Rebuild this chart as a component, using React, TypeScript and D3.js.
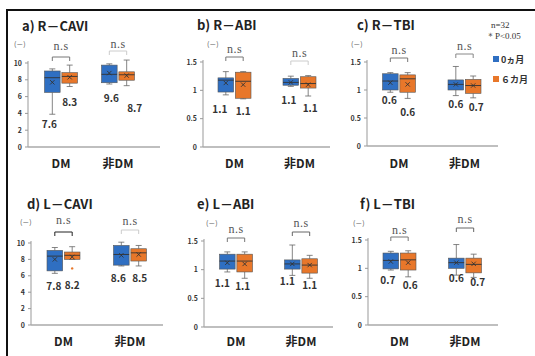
import React from 'react';
import * as d3 from 'd3';

// data
const CATEGORIES = ['DM', '非DM'];
const PERIODS = ['0ヵ月', '６カ月'];
const PANEL_TITLES = ['a) R－CAVI', 'b) R－ABI', 'c) R－TBI', 'd) L－CAVI', 'e) L－ABI', 'f) L－TBI'];
const Y_MAX = [10, 1.5, 1.5, 10, 1.5, 1.5];
const CAVI_TICKS = [0, 2, 4, 6, 8, 10];
const INDEX_TICKS = [0, 0.5, 1, 1.5];

// [low, q1, median, q3, high, mean] for DM-0, DM-6, nonDM-0, nonDM-6
const R_CAVI = [[3.9, 6.5, 8.25, 9.05, 9.3, 7.7], [7.2, 7.6, 8.4, 8.85, 9.75, 8.3], [7.5, 7.65, 8.65, 9.75, 9.9, 8.8], [7.3, 7.95, 8.6, 8.95, 10.35, 8.5]];
const R_ABI = [[0.92, 0.97, 1.18, 1.22, 1.33, 1.13], [0.85, 0.86, 1.16, 1.32, 1.33, 1.1], [1.07, 1.09, 1.14, 1.21, 1.25, 1.14], [0.9, 1.04, 1.12, 1.24, 1.26, 1.1]];
const R_TBI = [[0.96, 1.0, 1.16, 1.29, 1.31, 1.13], [0.85, 0.96, 1.2, 1.27, 1.31, 1.1], [0.9, 1.0, 1.1, 1.18, 1.42, 1.1], [0.86, 0.94, 1.08, 1.19, 1.25, 1.08]];
const L_CAVI = [[6.3, 6.6, 8.4, 9.1, 9.45, 8.0], [8.0, 8.0, 8.5, 8.9, 9.55, 8.3], [7.2, 7.3, 8.6, 9.7, 10.1, 8.5], [7.2, 7.8, 8.8, 9.3, 9.7, 8.6]];
const L_ABI = [[0.96, 1.01, 1.15, 1.27, 1.31, 1.12], [0.85, 0.96, 1.15, 1.27, 1.31, 1.1], [0.9, 1.01, 1.1, 1.17, 1.43, 1.1], [0.85, 0.94, 1.08, 1.19, 1.25, 1.08]];
const L_TBI = [[0.97, 0.99, 1.14, 1.27, 1.3, 1.12], [0.85, 0.97, 1.15, 1.27, 1.31, 1.1], [0.88, 1.0, 1.1, 1.18, 1.42, 1.1], [0.84, 0.92, 1.07, 1.18, 1.25, 1.08]];
const BOX_DATA = [R_CAVI, R_ABI, R_TBI, L_CAVI, L_ABI, L_TBI];
const OUTLIERS = [[], [], [], [[1, 6.9]], [], []]; // [box index, value]

const VALUE_LABELS = [
  ['7.6', '8.3', '9.6', '8.7'],
  ['1.1', '1.1', '1.1', '1.1'],
  ['0.6', '0.6', '0.6', '0.7'],
  ['7.8', '8.2', '8.6', '8.5'],
  ['1.1', '1.1', '1.1', '1.1'],
  ['0.7', '0.6', '0.6', '0.7'],
];
const SIG_LABELS = [['n.s', 'n.s'], ['n.s', 'n.s'], ['n.s', 'n.s'], ['n.s', 'n.s'], ['n.s', 'n.s'], ['n.s', 'n.s']];
const SAMPLE_NOTE = 'n=32';
const P_NOTE = '＊P<0.05';
const UNIT = '(－)';

// layout
const PANELS = [
  { axisX: 28, y0: 147, yTop: 63, xEnd: 160, g: [33, 90], titleX: 22, titleY: 31, unitX: 14, unitY: 47, catY: 168 },
  { axisX: 203, y0: 147, yTop: 62, xEnd: 330, g: [31.5, 96.5], titleX: 197, titleY: 30, unitX: 207, unitY: 47, catY: 168 },
  { axisX: 367, y0: 146, yTop: 62, xEnd: 498, g: [32, 97.5], titleX: 357, titleY: 30, unitX: 351, unitY: 47, catY: 168 },
  { axisX: 31, y0: 325, yTop: 243, xEnd: 163, g: [32.5, 99], titleX: 27, titleY: 209, unitX: 20, unitY: 225, catY: 346 },
  { axisX: 204, y0: 327, yTop: 241, xEnd: 333, g: [32, 97], titleX: 197, titleY: 209, unitX: 206, unitY: 226, catY: 346 },
  { axisX: 368, y0: 325, yTop: 240, xEnd: 498, g: [31.5, 97], titleX: 360, titleY: 209, unitX: 353, unitY: 226, catY: 346 },
];
// [dx, dy below lower whisker]
const LABEL_OFFSETS = [
  [[-3, 14], [0, 19], [2, 18], [8, 26]],
  [[-6, 18], [0, 16], [-2, 18], [2, 16]],
  [[-1, 12], [0, 18], [0, 12], [3, 13]],
  [[-1, 17], [0, 30], [-3, 16], [1, 16]],
  [[-5, 15], [-2, 12], [-5, 10], [0, 11]],
  [[-3, 14], [2, 12], [0, 7], [4, 9]],
];
// [px above top tick, gap to text, colour]
const BRACKETS = [
  [[6, 7, '#777'], [12, 3, '#ccc']],
  [[5, 4, '#777'], [1, 4, '#ccc']],
  [[4, 4, '#777'], [8, 4, '#888']],
  [[11, 8, '#222'], [13, 5, '#ccc']],
  [[3, 5, '#777'], [9, 5, '#666']],
  [[3, 3, '#777'], [12, 5, '#666']],
];

const COLORS = ['#2f6fc2', '#e8772a'];
const SANS = '"Noto Sans CJK JP", "Noto Sans", sans-serif';
const SERIF = '"Liberation Serif", serif';

const Panel = ({ idx }: { idx: number }) => {
  const p = PANELS[idx];
  const y = d3.scaleLinear().domain([0, Y_MAX[idx]]).range([p.y0, p.yTop]);
  const ticks = Y_MAX[idx] > 2 ? CAVI_TICKS : INDEX_TICKS;
  const xOuter = d3.scalePoint().domain(CATEGORIES).range([p.axisX + p.g[0], p.axisX + p.g[1]]);
  const xInner = d3.scaleBand().domain(PERIODS).range([-16.5, 16.5]).paddingInner(0.1);
  const bw = xInner.bandwidth();
  const sym = d3.symbol().type(d3.symbolX).size(14);

  return (
    <g>
      <text x={p.titleX} y={p.titleY} fontSize={13} fontWeight="bold" fill="#222" fontFamily={SANS}>{PANEL_TITLES[idx]}</text>
      <text x={p.unitX} y={p.unitY} fontSize={7} fill="#555" fontFamily={SANS}>{UNIT}</text>

      <line x1={p.axisX} x2={p.axisX} y1={p.y0} y2={p.yTop - 2} stroke="#aaa" strokeWidth={1.2} />
      <line x1={p.axisX} x2={p.xEnd} y1={p.y0} y2={p.y0} stroke="#aaa" strokeWidth={1.5} />
      {ticks.map(t => (
        <g key={t}>
          <line x1={p.axisX - 3} x2={p.axisX} y1={y(t)} y2={y(t)} stroke="#999" />
          <text x={p.axisX - 6} y={y(t) + 2.5} fontSize={7} fontWeight="bold" fill="#333" textAnchor="end" fontFamily={SANS}>{d3.format('~g')(t)}</text>
        </g>
      ))}

      {CATEGORIES.map((cat, ci) => {
        const cx = xOuter(cat) as number;
        const centers = PERIODS.map(per => cx + (xInner(per) as number) + bw / 2);
        const [up, gap, col] = BRACKETS[idx][ci] as [number, number, string];
        const by = p.yTop - up;
        return (
          <g key={cat}>
            <path d={`M${centers[0]},${by + 4}V${by}H${centers[1]}V${by + 4}`} fill="none" stroke={col} strokeWidth={1} />
            <text x={(centers[0] + centers[1]) / 2} y={by - gap} fontSize={12} fill="#555" textAnchor="middle" fontFamily={SERIF} letterSpacing={0.5}>{SIG_LABELS[idx][ci]}</text>
            <text x={cx} y={p.catY} fontSize={12} fontWeight="bold" fill="#222" textAnchor="middle" fontFamily={SANS}>{cat}</text>
            {PERIODS.map((per, pi) => {
              const bi = ci * 2 + pi;
              const [lo, q1, med, q3, hi, mean] = BOX_DATA[idx][bi];
              const x0 = cx + (xInner(per) as number);
              const mx = x0 + bw / 2;
              const [dx, dy] = LABEL_OFFSETS[idx][bi];
              return (
                <g key={per}>
                  <line x1={mx} x2={mx} y1={y(hi)} y2={y(q3)} stroke="#666" strokeWidth={0.8} />
                  <line x1={mx} x2={mx} y1={y(q1)} y2={y(lo)} stroke="#666" strokeWidth={0.8} />
                  <line x1={mx - 3} x2={mx + 3} y1={y(hi)} y2={y(hi)} stroke="#666" strokeWidth={0.8} />
                  <line x1={mx - 3} x2={mx + 3} y1={y(lo)} y2={y(lo)} stroke="#666" strokeWidth={0.8} />
                  <rect x={x0} y={y(q3)} width={bw} height={y(q1) - y(q3)} fill={COLORS[pi]} stroke="#555" strokeWidth={0.6} />
                  <line x1={x0} x2={x0 + bw} y1={y(med)} y2={y(med)} stroke="#333" strokeWidth={0.9} />
                  <path d={sym() as string} transform={`translate(${mx},${y(mean)})`} stroke="#333" strokeWidth={0.9} fill="none" />
                  {OUTLIERS[idx].filter(o => o[0] === bi).map((o, k) => (
                    <circle key={k} cx={mx} cy={y(o[1])} r={1.2} fill={COLORS[pi]} />
                  ))}
                  <text x={mx + dx} y={y(lo) + dy} fontSize={10} fontWeight="bold" fill="#333" textAnchor="middle" fontFamily={SANS}>{VALUE_LABELS[idx][bi]}</text>
                </g>
              );
            })}
          </g>
        );
      })}
    </g>
  );
};

export default function App() {
  return (
    <svg width={535} height={356} style={{ position: 'absolute', left: 0, top: 0, background: '#fff' }}>
      <rect width={535} height={356} fill="#fff" />
      <path d="M7,356V10H535" fill="none" stroke="#111" strokeWidth={2} />
      {PANEL_TITLES.map((t, i) => <Panel key={t} idx={i} />)}

      <text x={491} y={28} fontSize={9} fill="#333" fontFamily={SERIF}>{SAMPLE_NOTE}</text>
      <text x={486} y={39} fontSize={9} fill="#333" fontFamily={SERIF}>{P_NOTE}</text>
      {PERIODS.map((per, i) => (
        <g key={per}>
          <rect x={493} y={56 + i * 20} width={6} height={6} fill={COLORS[i]} />
          <text x={501} y={63 + i * 20} fontSize={9} fontWeight="bold" fill="#333" fontFamily={SANS}>{per}</text>
        </g>
      ))}
    </svg>
  );
}
